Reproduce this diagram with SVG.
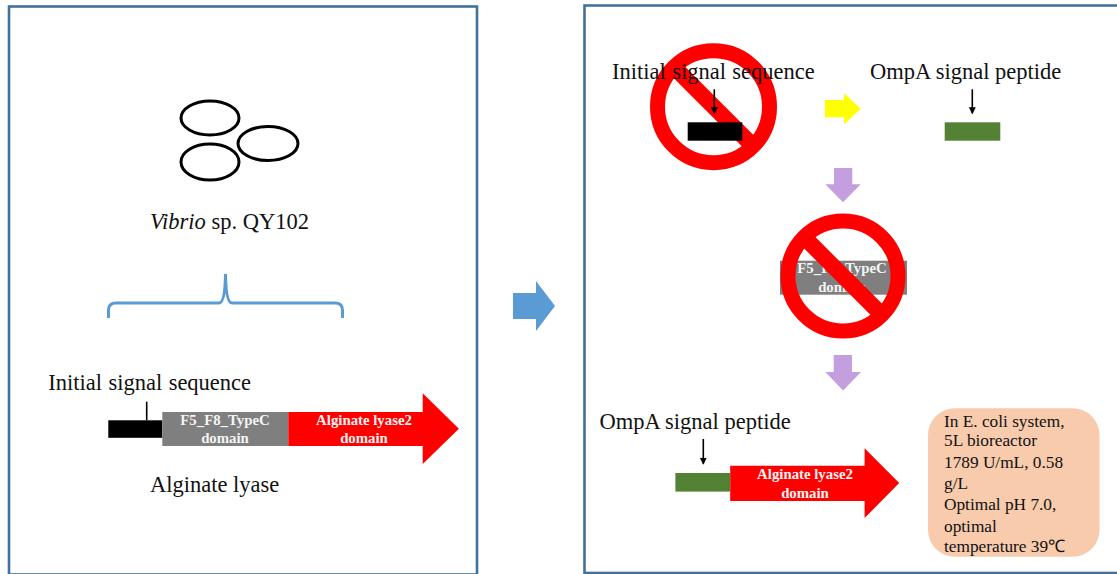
<svg xmlns="http://www.w3.org/2000/svg" width="1117" height="574" viewBox="0 0 1117 574">
<style>
text{font-family:"Liberation Serif","Times New Roman",serif;fill:#111}
.lab{font-size:22.500px}
.dom{font-size:14.800px;font-weight:bold;fill:#f4f4f4;text-anchor:middle}
.note{font-size:17.300px}
.panel{fill:#fff;stroke:#41719c;stroke-width:2.600}
.cell{fill:none;stroke:#000;stroke-width:3}
.pointer{fill:none;stroke:#000;stroke-width:1.600}
.no{fill:none;stroke:#f00;stroke-width:15}
.nobar{stroke:#f00;stroke-width:16}
.purple{fill:#c39fe0}
</style>
<defs>
<marker id="tip" markerWidth="8" markerHeight="8" refX="6" refY="3.500" orient="auto" markerUnits="userSpaceOnUse"><path d="M0 0L7 3.500L0 7Z" fill="#000"/></marker>
</defs>
<rect width="1117" height="574" fill="#fff"/>
<g id="panel-left"><rect class="panel" x="9" y="6.500" width="468" height="568"/></g>
<g id="panel-right"><rect class="panel" x="584.500" y="5.500" width="540" height="567.500"/></g>

<g id="vibrio">
<ellipse class="cell" cx="210" cy="118" rx="29" ry="17"/>
<ellipse class="cell" cx="268" cy="143.500" rx="30" ry="17"/>
<ellipse class="cell" cx="210" cy="162" rx="29" ry="18"/>
<text class="lab" x="150" y="229"><tspan font-style="italic">Vibrio</tspan> sp. QY102</text>
</g>

<g id="brace"><path d="M108.500 318V310Q108.500 303 116 303H219Q225 303 225.500 274Q226 303 232 303H335Q342.500 303 342.500 310V318" fill="none" stroke="#5b9bd5" stroke-width="3"/></g>

<g id="gene-full">
<text class="lab" x="48.300" y="390" word-spacing="0.800">Initial signal sequence</text>
<rect x="108.300" y="420.300" width="54" height="17.500" fill="#000"/>
<rect x="162.300" y="412" width="126" height="34" fill="#7f7f7f"/>
<path d="M288.300 412H422.700V393.300L458.900 428.700L422.700 464V446H288.300Z" fill="#f00"/>
<text class="dom" x="225" y="425.300">F5_F8_TypeC</text>
<text class="dom" x="225" y="443.300">domain</text>
<text class="dom" x="364" y="425.300">Alginate lyase2</text>
<text class="dom" x="364" y="443.300">domain</text>
<text class="lab" x="150" y="491.700">Alginate lyase</text>
</g>

<g id="step-arrow"><path d="M513 293H536V281L555 306L536 331V319H513Z" fill="#5b9bd5"/></g>

<g id="no-initial">
<circle class="no" cx="713.500" cy="106.700" r="56"/>
<line class="nobar" x1="674" y1="67" x2="753" y2="146"/>
<text class="lab" x="612" y="79" word-spacing="0.800">Initial signal sequence</text>
<rect x="687.700" y="122.300" width="54.600" height="18.400" fill="#000"/>
</g>

<g id="ompa-top">
<text class="lab" x="870" y="79">OmpA signal peptide</text>
<rect x="944.700" y="122.300" width="55.600" height="18.400" fill="#548235"/>
</g>

<g id="no-domain">
<rect x="780" y="260.700" width="127" height="34" fill="#7f7f7f"/>
<text class="dom" x="842" y="273">F5_F8_TypeC</text>
<text class="dom" x="842" y="291.700">domain</text>
<circle class="no" cx="843" cy="276" r="55"/>
<line class="nobar" x1="804" y1="237" x2="882" y2="315"/>
</g>

<g id="gene-final">
<text class="lab" x="599.400" y="429">OmpA signal peptide</text>
<rect x="675.400" y="473" width="54.800" height="18.600" fill="#548235"/>
<path d="M730.200 465.700H864.600V448.200L899.200 483L864.600 518V501H730.200Z" fill="#f00"/>
<text class="dom" x="805" y="478.800">Alginate lyase2</text>
<text class="dom" x="805" y="498">domain</text>
</g>

<g id="result-note">
<rect x="928" y="408.200" width="171.500" height="148.600" rx="27" fill="#f8cbad"/>
<text class="note" x="944" y="426.700">In E. coli system,</text>
<text class="note" x="944" y="445.900">5L bioreactor</text>
<text class="note" x="944" y="467.700">1789 U/mL, 0.58</text>
<text class="note" x="944" y="488.900">g/L</text>
<text class="note" x="944" y="510.400">Optimal pH 7.0,</text>
<text class="note" x="944" y="531.600">optimal</text>
<text class="note" x="944" y="552.400">temperature 39℃</text>
</g>

<g id="connectors">
<line class="pointer" x1="146.700" y1="401.700" x2="146.700" y2="420.300"/>
<line class="pointer" x1="714.300" y1="89.300" x2="714.300" y2="113.300" marker-end="url(#tip)"/>
<line class="pointer" x1="972.300" y1="89.300" x2="972.300" y2="113.300" marker-end="url(#tip)"/>
<line class="pointer" x1="703.300" y1="439" x2="703.300" y2="463.700" marker-end="url(#tip)"/>
<path d="M825 100H844V93.300L860.700 108.800L844 124.300V117.300H825Z" fill="#ff0"/>
<path class="purple" d="M834 168H852.300V184.300H860.700L843 202.300L825.300 184.300H834Z"/>
<path class="purple" d="M833.700 355H852V372H861L843.100 390.400L825.300 372H833.700Z"/>
</g>
</svg>
